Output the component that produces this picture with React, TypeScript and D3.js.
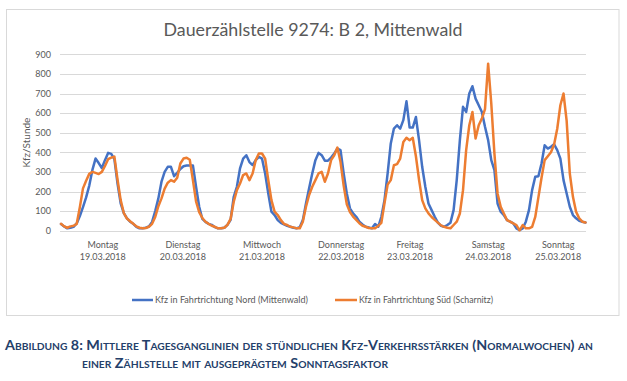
import React from "react";
import * as d3 from "d3";

// ---- data (hourly averages, Kfz/Stunde) ----
const nordMon = [34, 22, 12, 15, 20, 37, 75, 120, 170, 230, 310, 368, 345, 320, 360, 397, 392, 365, 240, 140, 90, 63, 46, 35];
const nordTue = [20, 12, 12, 15, 22, 45, 100, 165, 250, 300, 326, 326, 278, 295, 315, 329, 333, 333, 333, 224, 122, 60, 45, 35];
const nordWed = [30, 18, 12, 12, 15, 30, 55, 173, 224, 318, 368, 385, 350, 335, 360, 377, 368, 292, 190, 97, 80, 54, 40, 32];
const nordThu = [25, 20, 15, 12, 18, 54, 139, 216, 292, 360, 397, 385, 357, 357, 373, 394, 419, 411, 292, 190, 114, 88, 71, 46];
const nordFri = [32, 20, 16, 12, 34, 20, 71, 156, 292, 445, 521, 538, 521, 564, 660, 526, 526, 580, 462, 326, 224, 139, 105, 71];
const nordSat = [41, 25, 20, 29, 41, 105, 258, 462, 632, 606, 700, 737, 674, 640, 606, 530, 462, 360, 309, 139, 97, 80, 54, 46];
const nordSun = [37, 12, 3, 12, 46, 105, 207, 275, 278, 343, 436, 419, 428, 441, 411, 368, 258, 190, 122, 80, 63, 51, 46, 42];

const suedMon = [35, 22, 15, 22, 25, 35, 120, 216, 255, 290, 300, 295, 289, 300, 330, 365, 373, 378, 260, 156, 90, 62, 48, 35];
const suedTue = [22, 15, 12, 14, 20, 35, 70, 125, 165, 215, 245, 258, 250, 270, 343, 368, 372, 362, 258, 150, 95, 65, 46, 35];
const suedWed = [25, 20, 12, 12, 15, 30, 60, 148, 207, 241, 284, 292, 258, 292, 360, 394, 394, 368, 258, 156, 97, 80, 54, 35];
const suedThu = [29, 20, 17, 12, 12, 46, 122, 182, 224, 258, 292, 300, 250, 292, 360, 385, 424, 350, 230, 135, 95, 72, 55, 38];
const suedFri = [25, 20, 14, 12, 12, 25, 40, 140, 235, 258, 334, 340, 368, 453, 474, 462, 474, 380, 260, 156, 114, 88, 70, 55];
const suedSat = [41, 27, 20, 15, 12, 29, 46, 88, 207, 411, 538, 606, 470, 538, 572, 620, 852, 649, 394, 190, 122, 88, 54, 46];
const suedSun = [37, 29, 2, 29, 12, 12, 20, 70, 170, 270, 360, 380, 400, 440, 520, 640, 700, 560, 292, 173, 97, 63, 46, 42];

const nord = [...nordMon, ...nordTue, ...nordWed, ...nordThu, ...nordFri, ...nordSat, ...nordSun];
const sued = [...suedMon, ...suedTue, ...suedWed, ...suedThu, ...suedFri, ...suedSat, ...suedSun];

const yTicks = [0, 100, 200, 300, 400, 500, 600, 700, 800, 900];
const dayNames = ["Montag", "Dienstag", "Mittwoch", "Donnerstag", "Freitag", "Samstag", "Sonntag"];
const dayDates = ["19.03.2018", "20.03.2018", "21.03.2018", "22.03.2018", "23.03.2018", "24.03.2018", "25.03.2018"];
const dayLabelHour = [13.3, 38.8, 64, 89.2, 111.1, 136, 158.3];

const seriesNames = ["Kfz in Fahrtrichtung Nord (Mittenwald)", "Kfz in Fahrtrichtung Süd (Scharnitz)"];
const titleText = "Dauerzählstelle 9274: B 2, Mittenwald";
const captionLine1 = "Abbildung 8: Mittlere Tagesganglinien der stündlichen Kfz-Verkehrsstärken (Normalwochen) an";
const captionLine2 = "einer Zählstelle mit ausgeprägtem Sonntagsfaktor";

const W = 627;
const H = 381;
const FONT = "Lato, 'Open Sans', sans-serif";
const BLUE = "#4472C4";
const ORANGE = "#ED7D31";
const GREY = "#595959";

export default function App() {
  const x = d3.scaleLinear().domain([0, nord.length - 1]).range([61, 585.5]);
  const y = d3.scaleLinear().domain([0, 900]).range([230.7, 54.3]);
  const line = d3
    .line<number>()
    .x((_, i) => x(i))
    .y((d) => y(d));

  return (
    <svg
      width={W}
      height={H}
      viewBox={`0 0 ${W} ${H}`}
      style={{ position: "absolute", left: 0, top: 0, background: "#fff" }}
      fontFamily={FONT}
    >
      <rect x={0} y={0} width={W} height={H} fill="#fff" />
      {/* chart frame */}
      <rect x={6.5} y={9.5} width={612.5} height={306} fill="#fff" stroke="#d9d9d9" strokeWidth={1} />

      {/* title */}
      <text x={313} y={36} textAnchor="middle" fontSize={17} fill={GREY} textLength={299} lengthAdjust="spacingAndGlyphs">
        {titleText}
      </text>

      {/* gridlines + y ticks */}
      {yTicks.map((t) => (
        <g key={t}>
          <line x1={60} x2={586} y1={Math.round(y(t)) + 0.5} y2={Math.round(y(t)) + 0.5} stroke="#d9d9d9" strokeWidth={1} />
          <text x={51} y={y(t) + 3.2} textAnchor="end" fontSize={9} fill={GREY}>
            {t}
          </text>
        </g>
      ))}

      {/* y axis title */}
      <text
        transform={`translate(30,142.5) rotate(-90)`}
        textAnchor="middle"
        fontSize={10}
        fill={GREY}
      >
        Kfz/Stunde
      </text>

      {/* day labels */}
      {dayNames.map((d, i) => (
        <g key={d}>
          <text x={x(dayLabelHour[i])} y={248} textAnchor="middle" fontSize={9} fill={GREY}>
            {d}
          </text>
          <text x={x(dayLabelHour[i])} y={259.5} textAnchor="middle" fontSize={9} fill={GREY}>
            {dayDates[i]}
          </text>
        </g>
      ))}

      {/* series */}
      <path d={line(nord) || ""} fill="none" stroke={BLUE} strokeWidth={2.5} strokeLinejoin="round" strokeLinecap="round" />
      <path d={line(sued) || ""} fill="none" stroke={ORANGE} strokeWidth={2.5} strokeLinejoin="round" strokeLinecap="round" />

      {/* legend */}
      <line x1={132} x2={153} y1={300} y2={300} stroke={BLUE} strokeWidth={2.5} />
      <text x={155} y={303} fontSize={9} fill={GREY} textLength={153} lengthAdjust="spacingAndGlyphs">
        {seriesNames[0]}
      </text>
      <line x1={335} x2={357} y1={300} y2={300} stroke={ORANGE} strokeWidth={2.5} />
      <text x={359} y={303} fontSize={9} fill={GREY} textLength={134} lengthAdjust="spacingAndGlyphs">
        {seriesNames[1]}
      </text>

      {/* caption */}
      <text
        x={5}
        y={350}
        fontSize={14}
        fontWeight="bold"
        fill="#24406A"
        style={{ fontVariant: "small-caps" }}
        textLength={588}
        lengthAdjust="spacingAndGlyphs"
      >
        {captionLine1}
      </text>
      <text
        x={82}
        y={368}
        fontSize={14}
        fontWeight="bold"
        fill="#24406A"
        style={{ fontVariant: "small-caps" }}
        textLength={306}
        lengthAdjust="spacingAndGlyphs"
      >
        {captionLine2}
      </text>
    </svg>
  );
}
